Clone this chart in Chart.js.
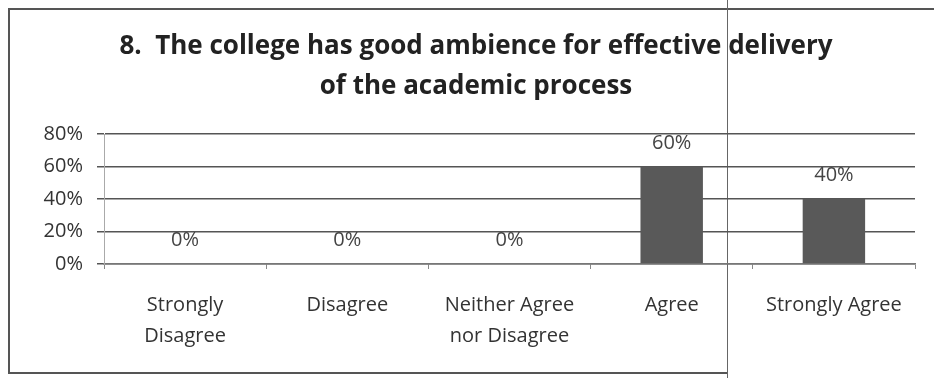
<!DOCTYPE html>
<html>
<head>
<meta charset="utf-8">
<script src="https://cdn.jsdelivr.net/npm/chart.js@4"></script>
<style>
  html, body { margin: 0; padding: 0; background: #fff; }
  canvas { display: block; }
</style>
</head>
<body>
<canvas id="ambienceChart" width="934" height="378"></canvas>
<script>
// Datos del gráfico
const categories = [
    ['Strongly', 'Disagree'],
    'Disagree',
    ['Neither Agree', 'nor Disagree'],
    'Agree',
    'Strongly Agree'
];
const responses = [0, 0, 0, 60, 40];
const yTicks = [0, 20, 40, 60, 80];
const chartTitle = ['8.  The college has good ambience for effective delivery', 'of the academic process'];

const FONT = '"Open Sans", "Liberation Sans", sans-serif';

// marco de la figura y la línea del escaneo
const framePlugin = {
    id: 'frame',
    beforeDraw(chart) {
        const c = chart.ctx;
        c.save();
        c.fillStyle = '#fff';
        c.fillRect(0, 0, chart.width, chart.height);
        c.strokeStyle = '#555';
        c.lineWidth = 2;
        c.beginPath();
        c.moveTo(chart.width, 9);
        c.lineTo(9, 9);
        c.lineTo(9, 373);
        c.lineTo(727, 373);
        c.stroke();
        c.strokeStyle = '#666';
        c.lineWidth = 1;
        c.beginPath();
        c.moveTo(727.5, 0);
        c.lineTo(727.5, chart.height);
        c.stroke();
        c.restore();
    }
};

// etiquetas de valor encima de cada barra
const valueLabels = {
    id: 'valueLabels',
    afterDatasetsDraw(chart) {
        const c = chart.ctx;
        c.save();
        c.font = '20px ' + FONT;
        c.fillStyle = '#444';
        c.textAlign = 'center';
        c.textBaseline = 'alphabetic';
        chart.getDatasetMeta(0).data.forEach((bar, i) => {
            c.fillText(responses[i] + '%', bar.x, bar.y - 18);
        });
        c.restore();
    }
};

const ctx = document.getElementById('ambienceChart').getContext('2d');

new Chart(ctx, {
    type: 'bar',
    data: {
        labels: categories,
        datasets: [{
            data: responses,
            backgroundColor: '#595959',
            borderWidth: 0,
            barPercentage: 0.385,
            categoryPercentage: 1
        }]
    },
    options: {
        responsive: false,
        animation: false,
        devicePixelRatio: 1,
        layout: { padding: { left: 37, right: 19, top: 26, bottom: 5 } },
        plugins: {
            legend: { display: false },
            tooltip: { enabled: false },
            title: {
                display: true,
                text: chartTitle,
                color: '#222',
                font: { family: FONT, size: 26, weight: 'bold', lineHeight: 1.52 },
                padding: { top: 1, bottom: 28 }
            }
        },
        scales: {
            x: {
                grid: { drawOnChartArea: false, drawTicks: true, tickLength: 5, color: '#888' },
                border: { color: '#777', width: 1.5 },
                ticks: {
                    color: '#333',
                    font: { family: FONT, size: 20, lineHeight: 1.55 },
                    padding: 21,
                    maxRotation: 0,
                    autoSkip: false
                }
            },
            y: {
                min: 0,
                max: 80,
                afterBuildTicks(axis) {
                    axis.ticks = yTicks.map(v => ({ value: v }));
                },
                afterFit(axis) { axis.width = 67; },
                grid: { color: '#555', lineWidth: 1.5, tickLength: 7 },
                border: { color: '#aaa', width: 1 },
                ticks: {
                    color: '#333',
                    font: { family: FONT, size: 20 },
                    padding: 14,
                    callback: v => v + '%'
                }
            }
        }
    },
    plugins: [framePlugin, valueLabels]
});
</script>
</body>
</html>
